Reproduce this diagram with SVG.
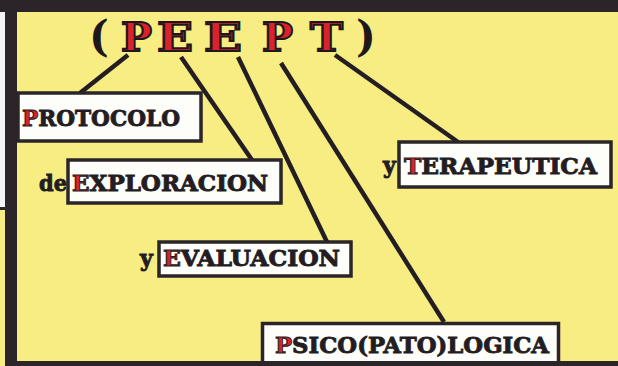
<svg xmlns="http://www.w3.org/2000/svg" width="618" height="366" viewBox="0 0 618 366">
<style>
.frame{fill:#2b2429}
.box{fill:#fdfdfa;stroke:#2b2429;stroke-width:3.5}
.lbl{font-family:"DejaVu Serif","Liberation Serif",serif;font-weight:bold;fill:#231c22;stroke:#231c22;stroke-width:0.9}
.ini{fill:#d9222b;stroke:#231c22;stroke-width:1}
.ttl{font-family:"DejaVu Serif","Liberation Serif",serif;font-weight:bold;font-size:40px;fill:#d9222b;stroke:#1e181c;stroke-width:2}
.par{font-family:"DejaVu Serif","Liberation Serif",serif;font-weight:bold;font-size:42px;fill:#1e181c}
.conn{stroke:#241e22;stroke-width:4.5;stroke-linecap:butt;fill:none}
</style>
<rect x="0" y="0" width="618" height="366" fill="#f7ed82"/>
<rect x="0" y="0" width="6" height="208" fill="#f4f2f2"/>
<rect x="0" y="207" width="8" height="3" class="frame"/>
<g id="frame">
<rect x="0" y="0" width="618" height="12" class="frame"/>
<rect x="5" y="0" width="12" height="366" class="frame"/>
<rect x="5" y="361" width="613" height="5" class="frame"/>
</g>
<g id="connectors">
<line class="conn" x1="128" y1="55" x2="80" y2="93"/>
<line class="conn" x1="181" y1="57" x2="252" y2="160"/>
<line class="conn" x1="238" y1="57" x2="327" y2="242"/>
<line class="conn" x1="281" y1="63" x2="444" y2="322"/>
<line class="conn" x1="335" y1="55" x2="458" y2="142"/>
</g>
<g id="title">
<text class="par" x="89" y="51">(</text>
<text class="ttl" x="121" y="51" textLength="31" lengthAdjust="spacingAndGlyphs">P</text>
<text class="ttl" x="157" y="51" textLength="36" lengthAdjust="spacingAndGlyphs">E</text>
<text class="ttl" x="204" y="51" textLength="38" lengthAdjust="spacingAndGlyphs">E</text>
<text class="ttl" x="262" y="51" textLength="31" lengthAdjust="spacingAndGlyphs">P</text>
<text class="ttl" x="310" y="51" textLength="33" lengthAdjust="spacingAndGlyphs">T</text>
<text class="par" x="356" y="51">)</text>
</g>
<g id="node-protocolo">
<rect class="box" x="18" y="93" width="183" height="48"/>
<text class="lbl" x="22" y="126" font-size="23" textLength="158" lengthAdjust="spacingAndGlyphs"><tspan class="ini">P</tspan>ROTOCOLO</text>
</g>
<g id="node-exploracion">
<text class="lbl" x="39" y="191" font-size="22" textLength="28" lengthAdjust="spacingAndGlyphs">de</text>
<rect class="box" x="68" y="160" width="213" height="43"/>
<text class="lbl" x="72" y="191" font-size="22" textLength="196" lengthAdjust="spacingAndGlyphs"><tspan class="ini">E</tspan>XPLORACION</text>
</g>
<g id="node-terapeutica">
<text class="lbl" x="383" y="173" font-size="22">y</text>
<rect class="box" x="399" y="142" width="212" height="45"/>
<text class="lbl" x="404" y="174" font-size="23" textLength="193" lengthAdjust="spacingAndGlyphs"><tspan class="ini">T</tspan>ERAPEUTICA</text>
</g>
<g id="node-evaluacion">
<text class="lbl" x="140" y="266" font-size="22">y</text>
<rect class="box" x="159" y="242" width="192" height="34"/>
<text class="lbl" x="163" y="266" font-size="22" textLength="177" lengthAdjust="spacingAndGlyphs"><tspan class="ini">E</tspan>VALUACION</text>
</g>
<g id="node-psicopatologica">
<rect class="box" x="262.5" y="323.5" width="296" height="50"/>
<text class="lbl" x="275" y="353" font-size="23" textLength="274" lengthAdjust="spacingAndGlyphs"><tspan class="ini">P</tspan>SICO(PATO)LOGICA</text>
</g>
<rect x="5" y="361" width="613" height="5" class="frame"/>
</svg>
